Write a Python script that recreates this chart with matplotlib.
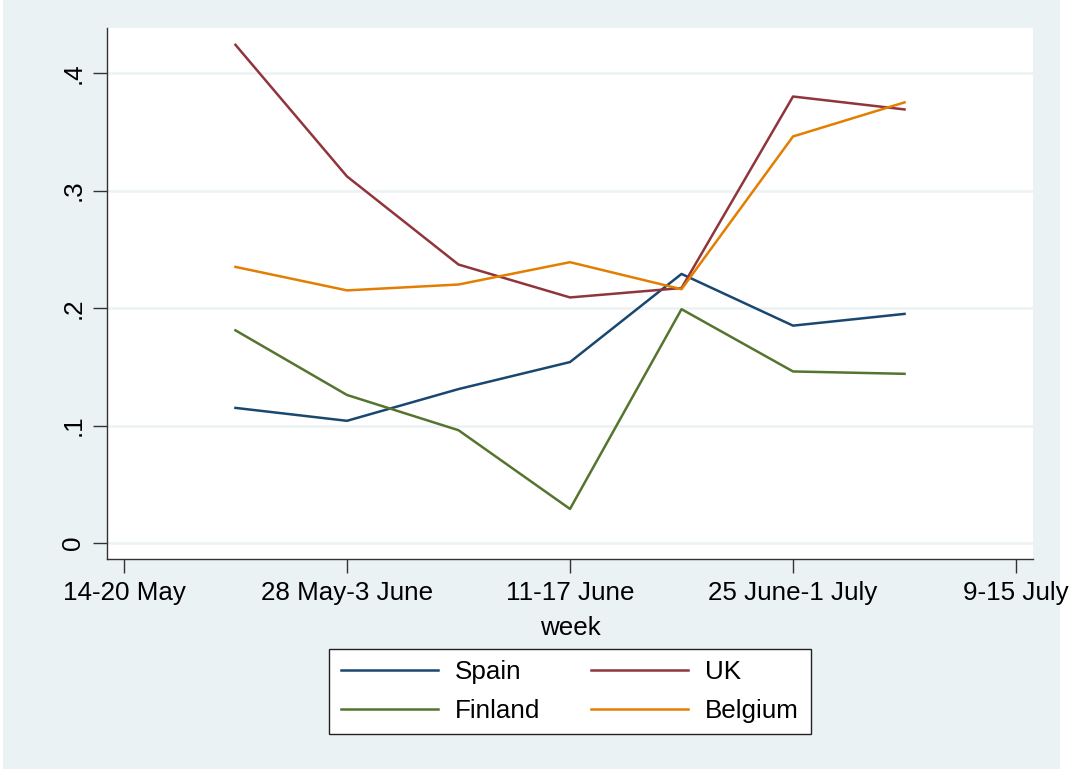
import numpy as np
import matplotlib.pyplot as plt
from matplotlib.patches import Rectangle

plt.rcParams['font.family'] = ['Liberation Sans', 'DejaVu Sans']

# datos
semana = np.array([1, 2, 3, 4, 5, 6, 7])
spain = [0.115, 0.104, 0.131, 0.154, 0.229, 0.185, 0.195]
uk = [0.424, 0.312, 0.237, 0.209, 0.217, 0.380, 0.369]
finland = [0.181, 0.126, 0.096, 0.029, 0.199, 0.146, 0.144]
belgium = [0.235, 0.215, 0.220, 0.239, 0.216, 0.346, 0.375]

tick_pos = [0, 2, 4, 6, 8]
tick_lab = ["14-20 May", "28 May-3 June", "11-17 June", "25 June-1 July", "9-15 July"]
y_ticks = [0, 0.1, 0.2, 0.3, 0.4]
y_lab = ["0", ".1", ".2", ".3", ".4"]

fondo = '#EAF2F3'
fs = 18.7

fig = plt.figure(figsize=[10.74, 7.69], dpi=100, facecolor='white')
fig.patches.append(Rectangle((3 / 1074, 0), 1057 / 1074, 1, transform=fig.transFigure,
                             facecolor=fondo, edgecolor='none', zorder=-10))
ax = fig.add_axes([107 / 1074, 1 - 559 / 769, 926 / 1074, 531 / 769])
ax.set_facecolor('white')

l1, = ax.plot(semana, spain, color='#1A476F', linewidth=1.8, label="Spain")
l2, = ax.plot(semana, uk, color='#90353B', linewidth=1.8, label="UK")
l3, = ax.plot(semana, finland, color='#55752F', linewidth=1.8, label="Finland")
l4, = ax.plot(semana, belgium, color='#E37E00', linewidth=1.8, label="Belgium")

ax.set_xlim(-0.152, 8.152)
ax.set_ylim(-0.0136, 0.4383)
ax.set_xticks(tick_pos)
ax.set_xticklabels(tick_lab, fontsize=fs)
ax.set_yticks(y_ticks)
ax.set_yticklabels(y_lab, fontsize=fs, rotation=90, va='center')
ax.grid(True, axis='y', color=fondo, linewidth=1.8)
ax.set_axisbelow(True)
for s in ['top', 'right']:
    ax.spines[s].set_visible(False)
for s in ['left', 'bottom']:
    ax.spines[s].set_color('#333333')
    ax.spines[s].set_linewidth(1.0)
ax.tick_params(length=10, width=1, color='#333333', pad=5.5)
ax.set_xlabel("week", fontsize=fs, labelpad=8)

# orden por filas como en el original
leg = fig.legend([l1, l3, l2, l4], ["Spain", "Finland", "UK", "Belgium"], ncol=2,
                 loc='center', bbox_to_anchor=(570 / 1074, 1 - 691.5 / 769),
                 fontsize=fs, frameon=True, fancybox=False, edgecolor='#222222',
                 facecolor='white', framealpha=1,
                 handlelength=3.75, columnspacing=1.95, handletextpad=0.65,
                 borderpad=0.45, labelspacing=0.55)
leg.get_frame().set_linewidth(1.0)

plt.savefig("out.png", dpi=100, facecolor=fig.get_facecolor())
